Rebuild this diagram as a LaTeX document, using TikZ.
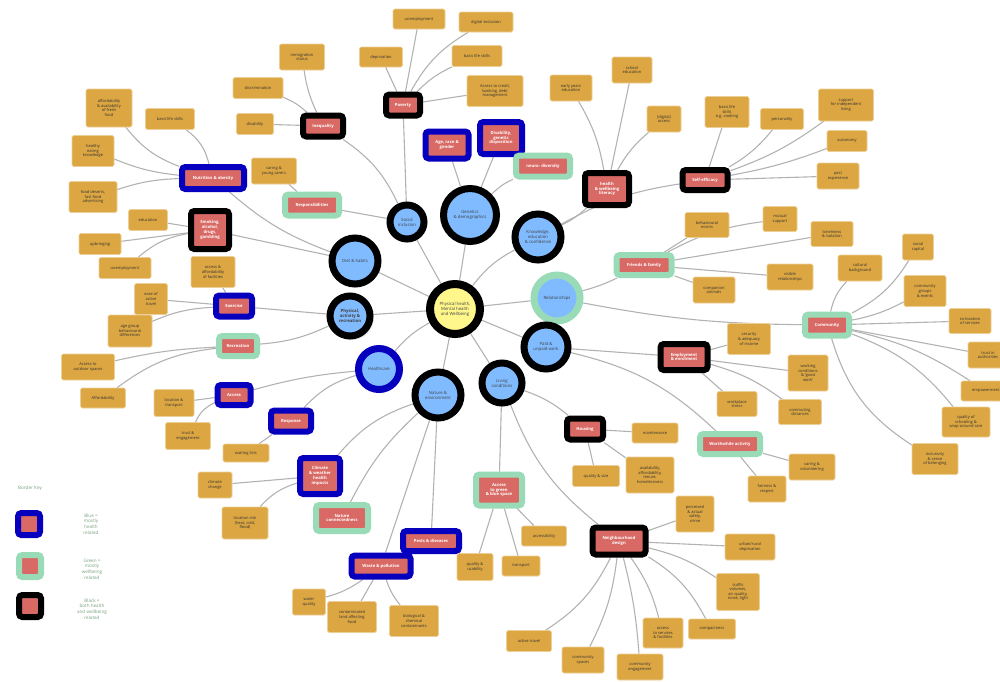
\documentclass[tikz,border=0pt]{standalone}
\usepackage{fontspec}
\setmainfont{Open Sans}
\usetikzlibrary{positioning}
\usetikzlibrary{shadows}
\pgfdeclarelayer{back}
\pgfsetlayers{back,main}
\definecolor{hubblue}{RGB}{128,187,255}
\definecolor{hubyellow}{RGB}{255,247,140}
\definecolor{factorred}{RGB}{216,105,100}
\definecolor{keyblue}{RGB}{6,0,190}
\definecolor{keygreen}{RGB}{152,219,182}
\definecolor{leafgold}{RGB}{220,166,66}
\definecolor{wiregray}{RGB}{178,178,178}
\definecolor{keytext}{RGB}{118,160,124}
\tikzstyle{hub} = [circle, fill=hubblue, draw=black, line width=7pt, align=center, inner sep=0pt, font=\fontsize{4.3}{5}\selectfont, text=black!75]
\tikzstyle{factor} = [rectangle, fill=factorred, line width=6pt, rounded corners=3.3pt, align=center, inner sep=1pt, font=\bfseries\fontsize{4.2}{4.8}\selectfont, text=white]
\tikzstyle{leaf} = [rectangle, fill=leafgold, draw=leafgold!55!white, line width=0.6pt, rounded corners=1.6pt, align=center, inner sep=1pt, font=\fontsize{4}{4.6}\selectfont, text=black!80]
\tikzstyle{wire} = [draw=wiregray, line width=1.1pt]
\newcommand{\linkto}[3][]{\draw[wire,#1] (#2) to (#3);}
\newcommand{\linksto}[2]{\foreach \s in {#1} {\draw[wire] (\s) -- (#2);}}

\begin{document}
\begin{tikzpicture}[x=1pt, y=-1pt,
  healthrel/.style={draw=keyblue}, wellrel/.style={draw=keygreen}, bothrel/.style={draw=black},
  wh/.style 2 args={minimum width=#1, minimum height=#2}]
\useasboundingbox (0,0) rectangle (1000,681);

% Hubs
\node[hub, fill=hubyellow, line width=8pt, minimum size=50] (phw) at (455,309) {Physical health,\\Mental health\\and Wellbeing};
\node[hub, minimum size=34]  (soc)  at (407,222) {Social\\inclusion};
\node[hub, minimum size=53]  (gen)  at (470,215) {Genetics\\\& demographics};
\node[hub, minimum size=46]  (kno)  at (538,237) {Knowledge,\\education\\\& confidence};
\node[hub, minimum size=46]  (diet) at (355,261) {Diet \& habits};
\node[hub, minimum size=40, circular drop shadow={shadow xshift=2pt, shadow yshift=-2pt, opacity=.35}] (pact) at (350,316) {\textbf{Physical,}\\\textbf{activity \&}\\\textbf{recreation}};
\node[hub, healthrel, minimum size=41] (care) at (379,369) {Healthcare};
\node[hub, minimum size=46]  (nat)  at (438,395) {Nature \&\\environment};
\node[hub, minimum size=40]  (liv)  at (502,383) {Living\\conditions};
\node[hub, wellrel, minimum size=46] (rel) at (557,298) {Relationships};
\node[hub, minimum size=44]  (work) at (546,347) {Paid \&\\unpaid work};

% Factors
\node[factor, bothrel, wh={34}{21}]   (pov)   at (403,105) {Poverty};
\node[factor, bothrel, wh={40}{21}]   (ineq)  at (323,126) {Inequality};
\node[factor, healthrel, wh={43}{27}] (arg)   at (447,145) {Age, race \&\\gender};
\node[factor, healthrel, wh={42}{32}] (dis)   at (501,138) {Disability,\\genetic\\disposition};
\node[factor, wellrel, wh={54}{21}]   (neuro) at (543,166) {neuro- diversity};
\node[factor, bothrel, wh={44}{32}]   (lit)   at (607,189) {health\\\& wellbeing\\literacy};
\node[factor, bothrel, wh={45}{20}]   (self)  at (705,180) {Self-efficacy};
\node[factor, healthrel, wh={62}{22}] (nutr)  at (213,178) {Nutrition \& obesity};
\node[factor, bothrel, wh={38}{38}]   (smok)  at (210,230) {Smoking,\\alcohol,\\drugs,\\gambling};
\node[factor, wellrel, wh={54}{21}]   (resp)  at (312,205) {Responsibilities};
\node[factor, healthrel, wh={36}{21}] (exer)  at (234,306) {Exercise};
\node[factor, wellrel, wh={38}{20}]   (recr)  at (238,346) {Recreation};
\node[factor, healthrel, wh={33}{20}] (acc)   at (234,395) {Access};
\node[factor, healthrel, wh={40}{21}] (rsp)   at (291,421) {Response};
\node[factor, healthrel, wh={40}{36}] (clim)  at (320,476) {Climate\\\& weather\\health\\impacts};
\node[factor, wellrel, wh={52}{26}]   (natc)  at (342,518) {Nature\\connectedness};
\node[factor, healthrel, wh={56}{20}] (pest)  at (431,541) {Pests \& diseases};
\node[factor, healthrel, wh={59}{21}] (waste) at (381,566) {Waste \& pollution};
\node[factor, wellrel, wh={46}{31}]   (gbs)   at (499,490) {Access\\to green\\\& blue space};
\node[factor, bothrel, wh={36}{21}]   (hous)  at (585,429) {Housing};
\node[factor, bothrel, wh={47}{26}]   (empl)  at (684,357) {Employment\\\& enrolment};
\node[factor, wellrel, wh={55}{20}]   (fam)   at (644,265) {Friends \& family};
\node[factor, wellrel, wh={60}{20}]   (worth) at (730,444) {Worthwhile activity};
\node[factor, wellrel, wh={44}{21}]   (comm)  at (827,325) {Community};
\node[factor, bothrel, wh={53}{27}]   (nbh)   at (619,541) {Neighbourhood\\design};

% Leaves
\node[leaf, wh={52}{20}] (unemp)  at (419,19)  {unemployment};
\node[leaf, wh={54}{20}] (digex)  at (486,22)  {digital exclusion};
\node[leaf, wh={43}{20}] (depr)   at (381,57)  {deprivation};
\node[leaf, wh={50}{21}] (bls)    at (477,56)  {basic life skills};
\node[leaf, wh={56}{31}] (cred)   at (495,91)  {Access to credit,\\banking, debt\\management};
\node[leaf, wh={45}{26}] (immi)   at (302,57)  {immigration\\status};
\node[leaf, wh={50}{21}] (discr)  at (258,88)  {discrimination};
\node[leaf, wh={37}{21}] (disab)  at (255,124) {disability};
\node[leaf, wh={45}{26}] (carer)  at (274,171) {caring \&\\young carers};
\node[leaf, wh={46}{38}] (fresh)  at (109,108) {affordability\\\& availability\\of fresh\\food};
\node[leaf, wh={49}{21}] (blsb)   at (170,119) {basic life skills};
\node[leaf, wh={42}{31}] (eat)    at (93,151)  {healthy\\eating\\knowledge};
\node[leaf, wh={48}{31}] (fast)   at (93,197)  {food deserts,\\fast food\\advertising};
\node[leaf, wh={39}{21}] (edu)    at (148,220) {education};
\node[leaf, wh={42}{21}] (upb)    at (100,244) {upbringing};
\node[leaf, wh={52}{21}] (unempb) at (125,268) {unemployment};
\node[leaf, wh={44}{31}] (facil)  at (213,272) {access \&\\affordability\\of facilities};
\node[leaf, wh={33}{31}] (travel) at (151,299) {ease of\\active\\travel};
\node[leaf, wh={44}{32}] (agegrp) at (130,331) {age group\\behavioural\\differences};
\node[leaf, wh={53}{26}] (outd)   at (88,367)  {Access to\\outdoor spaces};
\node[leaf, wh={45}{20}] (afford) at (103,398) {Affordability};
\node[leaf, wh={40}{27}] (loct)   at (174,403) {location \&\\transport};
\node[leaf, wh={45}{27}] (trust)  at (188,436) {trust \&\\engagement};
\node[leaf, wh={46}{18}] (wait)   at (246,453) {waiting lists};
\node[leaf, wh={34}{26}] (cchg)   at (215,485) {climate\\change};
\node[leaf, wh={46}{32}] (lrisk)  at (245,523) {location risk\\(heat, cold,\\flood)};
\node[leaf, wh={33}{26}] (water)  at (309,602) {water\\quality};
\node[leaf, wh={49}{31}] (cland)  at (352,617) {contaminated\\land affecting\\food};
\node[leaf, wh={49}{31}] (bio)    at (414,621) {biological \&\\chemical\\contaminants};
\node[leaf, wh={36}{27}] (qual)   at (475,567) {quality \&\\usability};
\node[leaf, wh={38}{20}] (trans)  at (521,566) {transport};
\node[leaf, wh={45}{20}] (acs)    at (544,536) {accessibility};
\node[leaf, wh={47}{21}] (qsize)  at (596,476) {quality \& size};
\node[leaf, wh={48}{36}] (avail)  at (650,475) {availability,\\affordability,\\tenure,\\homelessness};
\node[leaf, wh={46}{20}] (maint)  at (655,433) {maintenance};
\node[leaf, wh={38}{36}] (safe)   at (695,514) {perceived\\\& actual\\safety,\\crime};
\node[leaf, wh={50}{26}] (urb)    at (750,547) {urban/rural\\deprivation};
\node[leaf, wh={43}{37}] (traf)   at (738,592) {traffic\\volumes,\\air quality,\\noise, light};
\node[leaf, wh={47}{20}] (compa)  at (712,629) {compactness};
\node[leaf, wh={40}{30}] (serv)   at (663,633) {access\\to services\\\& facilities};
\node[leaf, wh={46}{26}] (ceng)   at (640,667) {community\\engagement};
\node[leaf, wh={42}{26}] (cspa)   at (583,660) {community\\spaces};
\node[leaf, wh={45}{21}] (atrav)  at (529,641) {active travel};
\node[leaf, wh={42}{26}] (early)  at (571,88)  {early years\\education};
\node[leaf, wh={40}{26}] (school) at (632,70)  {school\\education};
\node[leaf, wh={34}{26}] (digacc) at (664,119) {(digital)\\access};
\node[leaf, wh={44}{31}] (blsc)   at (727,112) {basic life\\skills\\e.g. cooking};
\node[leaf, wh={43}{21}] (pers)   at (782,119) {personality};
\node[leaf, wh={55}{32}] (indep)  at (846,105) {support\\for independent\\living};
\node[leaf, wh={40}{21}] (auto)   at (847,141) {autonomy};
\node[leaf, wh={42}{26}] (past)   at (838,176) {past\\experience};
\node[leaf, wh={44}{25}] (norms)  at (707,225) {behavioural\\norms};
\node[leaf, wh={34}{25}] (mutual) at (780,219) {mutual\\support};
\node[leaf, wh={42}{25}] (lone)   at (832,234) {loneliness\\\& isolation};
\node[leaf, wh={46}{26}] (visr)   at (790,277) {visible\\relationships};
\node[leaf, wh={42}{26}] (pets)   at (714,290) {companion\\animals};
\node[leaf, wh={44}{26}] (cult)   at (860,268) {cultural\\background};
\node[leaf, wh={31}{26}] (scap)   at (918,247) {social\\capital};
\node[leaf, wh={42}{31}] (cgrp)   at (925,291) {community\\groups\\\& events};
\node[leaf, wh={42}{25}] (coloc)  at (970,321) {co-location\\of services};
\node[leaf, wh={40}{26}] (tauth)  at (988,355) {trust in\\authorities};
\node[leaf, wh={50}{20}] (empow)  at (986,391) {empowerment};
\node[leaf, wh={48}{30}] (schl)   at (966,422) {quality of\\schooling \&\\wrap around care};
\node[leaf, wh={46}{31}] (incl)   at (935,459) {inclusivity\\\& sense\\of belonging};
\node[leaf, wh={43}{31}] (income) at (749,339) {security\\\& adequacy\\of income};
\node[leaf, wh={40}{36}] (wcond)  at (808,373) {working\\conditions\\\& `good\\work'};
\node[leaf, wh={40}{25}] (stress) at (737,404) {workplace\\stress};
\node[leaf, wh={43}{25}] (commu)  at (800,412) {commuting\\distances};
\node[leaf, wh={46}{26}] (volun)  at (812,467) {caring \&\\volunteering};
\node[leaf, wh={38}{26}] (fair)   at (767,489) {fairness \&\\respect};

% Border key
\node[text=keytext, font=\fontsize{4.6}{5}\selectfont] (keyhead) at (30,488) {Border Key};
\node[factor, healthrel, wh={22}{22}] (keyb) at (29,524) {};
\node[factor, wellrel, wh={22}{22}]   (keyg) at (30,566) {};
\node[factor, bothrel, wh={22}{22}]   (keyk) at (30,606) {};
\node[text=keytext, align=center, font=\fontsize{4.6}{5.6}\selectfont] (keybt) at (91,524) {Blue =\\mostly\\health\\related};
\node[text=keytext, align=center, font=\fontsize{4.6}{5.6}\selectfont] (keygt) at (92,569) {Green =\\mostly\\wellbeing\\related};
\node[text=keytext, align=center, font=\fontsize{4.6}{5.6}\selectfont] (keykt) at (92,609) {Black =\\both health\\and wellbeing\\related};

% Edges
\begin{pgfonlayer}{back}
\linksto{soc,gen,diet,pact,nat,liv,rel,work}{phw}
\linkto[bend left=12]{phw}{kno}
\linkto[bend right=10]{phw}{care}
\linksto{pov,resp}{soc}
\linkto[bend right=15]{soc}{ineq}
\linksto{depr,unemp,cred}{pov}
\linkto[bend left=15]{pov}{digex}
\linkto[bend left=10]{pov}{bls}
\linkto[bend left=8]{ineq}{immi}
\linkto[bend right=10]{ineq}{discr}
\linksto{disab}{ineq}
\linksto{carer}{resp}
\linksto{arg,dis}{gen}
\linkto[bend left=10]{gen}{neuro}
\linkto[bend right=8]{kno}{lit}
\linkto[bend left=10]{kno}{self}
\linkto[bend right=10]{lit}{early}
\linksto{school}{lit}
\linkto[bend left=10]{lit}{digacc}
\linksto{blsc,past}{self}
\linkto[bend right=10]{self}{pers}
\linkto[bend right=8]{self}{indep}
\linkto[bend right=5]{self}{auto}
\linkto[bend left=10]{diet}{nutr}
\linksto{smok}{diet}
\linkto[bend left=15]{nutr}{fresh}
\linkto[bend right=20]{nutr}{blsb}
\linkto[bend left=8]{nutr}{eat}
\linkto[bend right=8]{nutr}{fast}
\linksto{edu,upb}{smok}
\linkto[bend right=15]{smok}{unempb}
\linksto{exer}{pact}
\linkto[bend left=10]{pact}{recr}
\linksto{facil,travel}{exer}
\linkto[bend right=10]{exer}{agegrp}
\linkto[bend right=5]{recr}{outd}
\linkto[bend right=15]{recr}{afford}
\linkto[bend right=5]{care}{acc}
\linkto[bend right=15]{care}{rsp}
\linksto{loct}{acc}
\linkto[bend right=20]{acc}{trust}
\linksto{wait}{rsp}
\linkto[bend right=15]{nat}{clim}
\linkto[bend right=10]{nat}{natc}
\linksto{pest,waste}{nat}
\linksto{cchg}{clim}
\linkto[bend right=15]{clim}{lrisk}
\linkto[bend left=10]{waste}{water}
\linksto{cland}{waste}
\linkto[bend right=10]{waste}{bio}
\linkto[bend left=10]{liv}{hous}
\linkto[bend right=15]{liv}{nbh}
\linksto{gbs}{liv}
\linksto{maint,qsize,avail}{hous}
\linksto{acs,trans,qual}{gbs}
\linksto{safe,urb}{nbh}
\linkto[bend left=10]{nbh}{traf}
\linkto[bend left=15]{nbh}{compa}
\linkto[bend left=10]{nbh}{serv}
\linkto[bend left=5]{nbh}{ceng}
\linkto[bend left=10]{nbh}{cspa}
\linkto[bend left=15]{nbh}{atrav}
\linksto{empl}{work}
\linkto[bend left=15]{work}{worth}
\linksto{income,wcond,stress}{empl}
\linkto[bend left=10]{empl}{commu}
\linksto{volun,fair}{worth}
\linkto[bend right=5]{rel}{fam}
\linkto[bend right=5]{rel}{comm}
\linksto{norms,lone,visr,pets}{fam}
\linkto[bend left=10]{fam}{mutual}
\linkto[bend left=15]{comm}{cult}
\linkto[bend right=15]{comm}{scap}
\linkto[bend right=8]{comm}{cgrp}
\linksto{coloc,tauth}{comm}
\linkto[bend left=10]{comm}{empow}
\linkto[bend left=15]{comm}{schl}
\linkto[bend right=20]{comm}{incl}
\end{pgfonlayer}
\end{tikzpicture}
\end{document}
